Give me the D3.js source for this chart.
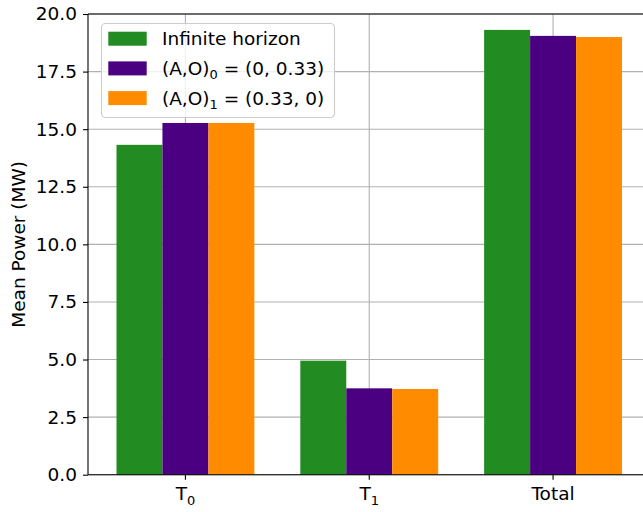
<html>

<head>
    <title>Mean Power</title>
    <script src='https://d3js.org/d3.v7.min.js'></script>
    <style>
        body { margin: 0; background: white; }
        text { font-family: 'DejaVu Sans', sans-serif; fill: black; }
        .tick text { font-size: 18.5px; }
        .grid line { stroke: #b0b0b0; stroke-width: 1.1; }
    </style>
</head>

<body>
    <svg id="chart"></svg>
    <script>
        // values
        var categories = ["T0", "T1", "Total"];
        var seriesNames = ["Infinite horizon", "(A,O)0 = (0, 0.33)", "(A,O)1 = (0.33, 0)"];
        var infiniteHorizon = [14.32, 4.95, 19.31];
        var ao0 = [15.27, 3.75, 19.05];
        var ao1 = [15.27, 3.72, 19.0];
        var yTicks = [0, 2.5, 5, 7.5, 10, 12.5, 15, 17.5, 20];
        var colors = ["#228B22", "#4B0082", "#FF8C00"];

        var allSeries = [infiniteHorizon, ao0, ao1];
        var W = 643, H = 512;
        var pL = 88, pT = 14, pB = 474.7, pR = 650.5;

        var svg = d3.select("#chart").attr("width", W).attr("height", H);

        var x0 = d3.scaleBand().domain(categories).range([pL, pR])
            .paddingInner(0.25).paddingOuter(0.155);
        var x1 = d3.scaleBand().domain(d3.range(3)).range([0, x0.bandwidth()]);
        var y = d3.scaleLinear().domain([0, 20]).range([pB, pT]);

        // grid
        var grid = svg.append("g").attr("class", "grid");
        grid.selectAll("line.h").data(yTicks).enter().append("line")
            .attr("x1", pL).attr("x2", W)
            .attr("y1", function (d) { return y(d); }).attr("y2", function (d) { return y(d); });
        grid.selectAll("line.v").data(categories).enter().append("line")
            .attr("x1", function (d) { return x0(d) + x0.bandwidth() / 2; })
            .attr("x2", function (d) { return x0(d) + x0.bandwidth() / 2; })
            .attr("y1", pT).attr("y2", pB);

        // bars
        var groups = svg.append("g").selectAll("g").data(categories).enter().append("g")
            .attr("transform", function (d) { return "translate(" + x0(d) + ",0)"; });
        groups.selectAll("rect")
            .data(function (d, i) { return allSeries.map(function (s, k) { return { k: k, v: s[i] }; }); })
            .enter().append("rect")
            .attr("x", function (d) { return x1(d.k); })
            .attr("width", x1.bandwidth())
            .attr("y", function (d) { return y(d.v); })
            .attr("height", function (d) { return pB - y(d.v); })
            .attr("fill", function (d) { return colors[d.k]; });

        // axes
        var yAxis = svg.append("g").attr("transform", "translate(" + pL + ",0)")
            .call(d3.axisLeft(y).tickValues(yTicks).tickFormat(d3.format(".1f")).tickSizeOuter(0).tickSize(5).tickPadding(6));
        yAxis.select(".domain").remove();
        var xAxis = svg.append("g").attr("transform", "translate(0," + pB + ")")
            .call(d3.axisBottom(x0).tickSizeOuter(0).tickSize(5).tickPadding(7));
        xAxis.select(".domain").remove();
        xAxis.selectAll(".tick text").each(function (d) {
            var t = d3.select(this).text("");
            if (d === "Total") { t.text("Total"); return; }
            t.append("tspan").text("T");
            t.append("tspan").attr("font-size", "13px").attr("dy", 5).text(d.slice(1));
        });
        svg.selectAll(".tick line").attr("stroke", "black").attr("stroke-width", 1.1);

        // spines
        svg.append("line").attr("x1", pL).attr("x2", pL).attr("y1", pT).attr("y2", pB)
            .attr("stroke", "black").attr("stroke-width", 1.1);
        svg.append("line").attr("x1", pL).attr("x2", W).attr("y1", pT).attr("y2", pT)
            .attr("stroke", "black").attr("stroke-width", 1.1);
        svg.append("line").attr("x1", pL).attr("x2", W).attr("y1", pB).attr("y2", pB)
            .attr("stroke", "black").attr("stroke-width", 1.1);

        // y label
        svg.append("text")
            .attr("transform", "translate(25," + ((pT + pB) / 2) + ") rotate(-90)")
            .attr("text-anchor", "middle")
            .style("font-size", "18.5px")
            .text("Mean Power (MW)");

        // legend
        var lg = svg.append("g");
        lg.append("rect").attr("x", 101.5).attr("y", 23.5).attr("width", 233).attr("height", 94)
            .attr("rx", 4).attr("fill", "white").attr("fill-opacity", 0.8)
            .attr("stroke", "#cccccc").attr("stroke-width", 1.1);
        seriesNames.forEach(function (name, i) {
            var cy = 38.7 + i * 29.7;
            lg.append("rect").attr("x", 108.3).attr("y", cy - 7).attr("width", 38.4).attr("height", 14)
                .attr("fill", colors[i]);
            var t = lg.append("text").attr("x", 162).attr("y", cy + 6.5).style("font-size", "18.5px");
            if (i === 0) { t.text(name); return; }
            t.append("tspan").text("(A,O)");
            t.append("tspan").attr("font-size", "13px").attr("dy", 4).text(String(i - 1));
            t.append("tspan").attr("dy", -4).text(name.slice(6));
        });
    </script>
</body>

</html>
